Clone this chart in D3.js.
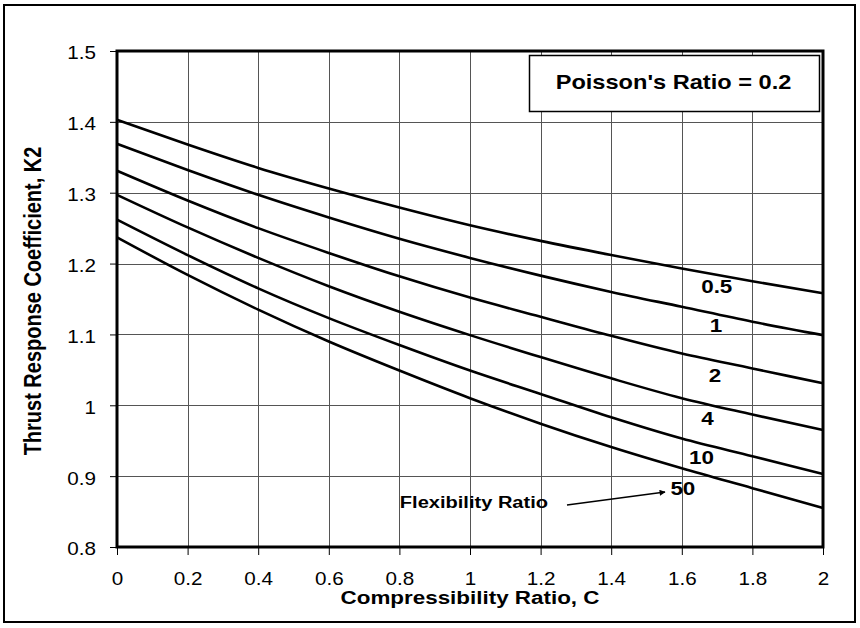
<!DOCTYPE html>
<html>
<head>
<meta charset="utf-8">
<script src="https://cdn.jsdelivr.net/npm/d3@7"></script>
<style>
html,body{margin:0;padding:0;background:#fff;}
svg{display:block;}
text{font-family:"Liberation Sans",Arial,sans-serif;fill:#000;}
</style>
</head>
<body>
<svg id="chart" width="860" height="628"></svg>
<script>
// ---- data ----
const xValues = [0, 0.2, 0.4, 0.6, 0.8, 1.0, 1.2, 1.4, 1.6, 1.8, 2.0];
const ratio05 = [1.403, 1.368, 1.335, 1.306, 1.279, 1.254, 1.232, 1.212, 1.193, 1.175, 1.158];
const ratio1  = [1.369, 1.332, 1.297, 1.265, 1.235, 1.208, 1.183, 1.160, 1.139, 1.118, 1.099];
const ratio2  = [1.331, 1.289, 1.250, 1.215, 1.182, 1.152, 1.125, 1.098, 1.073, 1.052, 1.031];
const ratio4  = [1.297, 1.251, 1.208, 1.168, 1.132, 1.099, 1.068, 1.038, 1.010, 0.987, 0.965];
const ratio10 = [1.262, 1.212, 1.165, 1.123, 1.085, 1.049, 1.016, 0.983, 0.953, 0.928, 0.903];
const ratio50 = [1.237, 1.184, 1.135, 1.090, 1.049, 1.010, 0.974, 0.941, 0.911, 0.883, 0.855];
const seriesNames = ["0.5", "1", "2", "4", "10", "50"];
const seriesValues = [ratio05, ratio1, ratio2, ratio4, ratio10, ratio50];
// label anchor positions in data units (label centre x, baseline y)
const labelX = [1.699, 1.697, 1.694, 1.673, 1.656, 1.603];
const labelY = [1.1585, 1.1034, 1.0329, 0.9722, 0.9171, 0.8734];
const xTicks = [0, 0.2, 0.4, 0.6, 0.8, 1, 1.2, 1.4, 1.6, 1.8, 2];
const yTicks = [0.8, 0.9, 1, 1.1, 1.2, 1.3, 1.4, 1.5];
const xTitle = "Compressibility Ratio, C";
const yTitle = "Thrust Response Coefficient, K2";
const boxTitle = "Poisson's Ratio = 0.2";
const noteText = "Flexibility Ratio";

// ---- layout ----
const SX = 1.18; // horizontal stretch of text in the reference
const svg = d3.select("#chart");
const pLeft = 117, pRight = 823, pTop = 51, pBottom = 547;

const x = d3.scaleLinear().domain([0, 2]).range([pLeft, pRight]);
const y = d3.scaleLinear().domain([0.8, 1.5]).range([pBottom, pTop]);

// outer border
svg.append("rect").attr("x", 4).attr("y", 5).attr("width", 851).attr("height", 617)
  .attr("fill", "#fff").attr("stroke", "#000").attr("stroke-width", 2);

// grid
const grid = svg.append("g").attr("shape-rendering", "crispEdges");
grid.selectAll("line.gx").data(xTicks.slice(1, -1)).join("line")
  .attr("x1", d => Math.round(x(d)) + 0.5).attr("x2", d => Math.round(x(d)) + 0.5)
  .attr("y1", pTop).attr("y2", pBottom).attr("stroke", "#555").attr("stroke-width", 1);
grid.selectAll("line.gy").data(yTicks.slice(1, -1)).join("line")
  .attr("y1", d => Math.round(y(d)) + 0.5).attr("y2", d => Math.round(y(d)) + 0.5)
  .attr("x1", pLeft).attr("x2", pRight).attr("stroke", "#555").attr("stroke-width", 1);

// axes
const yAxis = svg.append("g").attr("transform", `translate(${pLeft},0)`)
  .call(d3.axisLeft(y).tickValues(yTicks).tickSize(7).tickFormat(d3.format("")));
yAxis.select(".domain").remove();
yAxis.selectAll(".tick line").attr("stroke", "#000").attr("stroke-width", 1);
yAxis.selectAll(".tick text")
  .attr("x", null).attr("dy", "0.45em")
  .attr("transform", `translate(-21,0) scale(${SX},1)`)
  .attr("text-anchor", "end")
  .style("font-size", "17.5px").style("font-family", "Liberation Sans, Arial, sans-serif");

const xAxis = svg.append("g").attr("transform", `translate(0,${pBottom})`)
  .call(d3.axisBottom(x).tickValues(xTicks).tickSize(8).tickFormat(d3.format("")));
xAxis.select(".domain").remove();
xAxis.selectAll(".tick line").attr("stroke", "#000").attr("stroke-width", 1);
xAxis.selectAll(".tick text")
  .attr("y", null).attr("dy", null)
  .attr("transform", `translate(0,37.5) scale(${SX},1)`)
  .style("font-size", "17.5px").style("font-family", "Liberation Sans, Arial, sans-serif");

// series lines
const line = d3.line().x((d, i) => x(xValues[i])).y(d => y(d)).curve(d3.curveMonotoneX);
svg.append("g").selectAll("path").data(seriesValues).join("path")
  .attr("d", d => line(d)).attr("fill", "none").attr("stroke", "#000")
  .attr("stroke-width", 2.6).attr("stroke-linejoin", "round");

// series labels
svg.append("g").selectAll("text").data(seriesNames).join("text")
  .attr("transform", (d, i) => `translate(${x(labelX[i])},${y(labelY[i])}) scale(${SX},1)`)
  .attr("text-anchor", "middle").attr("font-weight", "bold").attr("font-size", 19)
  .text(d => d);

// plot frame
svg.append("rect").attr("x", pLeft).attr("y", pTop).attr("width", pRight - pLeft).attr("height", pBottom - pTop)
  .attr("fill", "none").attr("stroke", "#000").attr("stroke-width", 3);

// legend box
svg.append("rect").attr("x", 529.5).attr("y", 55.5).attr("width", 290).attr("height", 56)
  .attr("fill", "#fff").attr("stroke", "#000").attr("stroke-width", 1.5);
svg.append("text").attr("transform", `translate(673.5,89.3) scale(${SX},1)`)
  .attr("text-anchor", "middle").attr("font-weight", "bold").attr("font-size", 20).text(boxTitle);

// flexibility ratio note + arrow
svg.append("defs").append("marker").attr("id", "arrow").attr("viewBox", "0 0 10 10")
  .attr("refX", 9).attr("refY", 5).attr("markerWidth", 7).attr("markerHeight", 6)
  .attr("markerUnits", "userSpaceOnUse").attr("orient", "auto")
  .append("path").attr("d", "M0,0 L10,5 L0,10 z").attr("fill", "#000");
svg.append("text").attr("transform", `translate(548,508) scale(${SX},1)`)
  .attr("text-anchor", "end").attr("font-weight", "bold").attr("font-size", 17).text(noteText);
svg.append("line").attr("x1", 567).attr("y1", 505).attr("x2", 665).attr("y2", 492)
  .attr("stroke", "#000").attr("stroke-width", 1.5).attr("marker-end", "url(#arrow)");

// axis titles
svg.append("text").attr("transform", `translate(470,604) scale(${SX},1)`)
  .attr("text-anchor", "middle").attr("font-weight", "bold").attr("font-size", 19).text(xTitle);
svg.append("text").attr("transform", `translate(41,301) rotate(-90) scale(1,${SX})`)
  .attr("text-anchor", "middle").attr("font-weight", "bold").attr("font-size", 20).text(yTitle);
</script>
</body>
</html>
